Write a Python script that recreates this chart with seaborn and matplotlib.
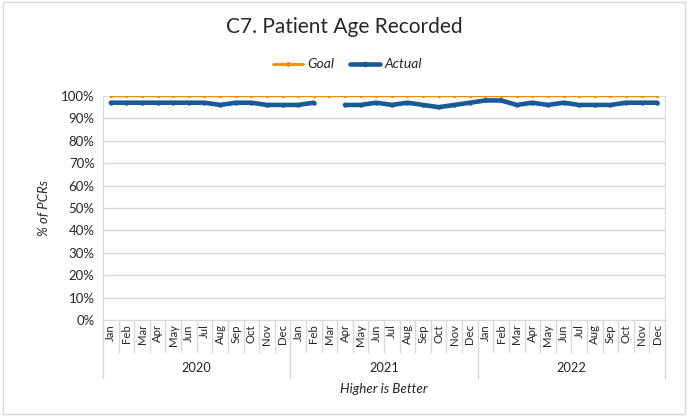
import numpy as np
import pandas as pd
import matplotlib
matplotlib.use("Agg")
import matplotlib.pyplot as plt
import matplotlib.transforms as mtransforms
from matplotlib.lines import Line2D
from matplotlib.patches import Rectangle
import seaborn as sns

# data
years = ["2020", "2021", "2022"]
months = ["Jan", "Feb", "Mar", "Apr", "May", "Jun", "Jul", "Aug", "Sep", "Oct", "Nov", "Dec"]
goal = [100] * 36
actual = [97, 97, 97, 97, 97, 97, 97, 96, 97, 97, 96, 96,
          96, 97, np.nan, 96, 96, 97, 96, 97, 96, 95, 96, 97,
          98, 98, 96, 97, 96, 97, 96, 96, 96, 97, 97, 97]

sns.set_style("white")
plt.rcParams['font.family'] = ['Lato', 'DejaVu Sans']

df = pd.DataFrame({
    "idx": np.arange(36),
    "goal": goal,
    "actual": actual,
})
# break the line where a month is missing
df["seg"] = df["actual"].isna().cumsum()
df_act = df.dropna(subset=["actual"])

fig = plt.figure(figsize=(6.88, 4.16), dpi=100)
ax = fig.add_axes([0.1497, 0.2308, 0.8169, 0.5385])

goal_c = "#F08C00"
act_c = "#175A96"

sns.lineplot(data=df, x="idx", y="goal", color=goal_c, lw=1.6, marker="o",
             markersize=2.5, markeredgewidth=0, ax=ax, zorder=3)
sns.lineplot(data=df_act, x="idx", y="actual", units="seg", estimator=None,
             color=act_c, lw=3.3, marker="o", markersize=3.2, markeredgewidth=0,
             ax=ax, zorder=4)

ax.set_xlim(-0.5, 35.5)
ax.set_ylim(0, 100)
ax.set_yticks(range(0, 101, 10))
ax.set_yticklabels([f"{v}%" for v in range(0, 101, 10)], fontsize=9.5)
ax.yaxis.grid(True, color="#D9D9D9", lw=1)
ax.set_axisbelow(True)
ax.spines["top"].set_visible(False)
for s in ["left", "right", "bottom"]:
    ax.spines[s].set_color("#D9D9D9")
ax.tick_params(axis="y", length=0, pad=6)

ax.set_xticks(range(36))
ax.set_xticklabels(months * 3, rotation=90, fontsize=8.2)
ax.tick_params(axis="x", length=0, pad=3)
ax.set_xlabel("")
ax.set_ylabel("% of PCRs", fontsize=9.5, style="italic", labelpad=8)

# category separators and year labels below the axis
trans = mtransforms.blended_transform_factory(ax.transData, ax.transAxes)
for i in range(37):
    x = i - 0.5
    y_end = -0.26 if i % 12 == 0 else -0.145
    ax.plot([x, x], [0, y_end], color="#D9D9D9", lw=1, transform=trans, clip_on=False)
for k, yr in enumerate(years):
    ax.text(k * 12 + 5.5, -0.215, yr, transform=trans, ha="center", va="center", fontsize=9.2)
ax.text(0.5, -0.31, "Higher is Better", transform=ax.transAxes, ha="center",
        va="center", fontsize=9.7, style="italic")

fig.text(0.5, 0.935, "C7. Patient Age Recorded", ha="center", va="center", fontsize=15)

handles = [Line2D([0], [0], color=goal_c, lw=2, marker="o", markersize=2.5),
           Line2D([0], [0], color=act_c, lw=3.3, marker="o", markersize=3)]
leg = fig.legend(handles, ["Goal", "Actual"], loc="center", bbox_to_anchor=(0.505, 0.845),
                 ncol=2, frameon=False, prop={"style": "italic", "size": 10},
                 handlelength=2.2, handletextpad=0.3, columnspacing=1.1)

fig.patches.append(Rectangle((0.004, 0.006), 0.992, 0.988, transform=fig.transFigure,
                             fill=False, edgecolor="#D9D9D9", lw=1))

fig.savefig("out.png", dpi=100)
